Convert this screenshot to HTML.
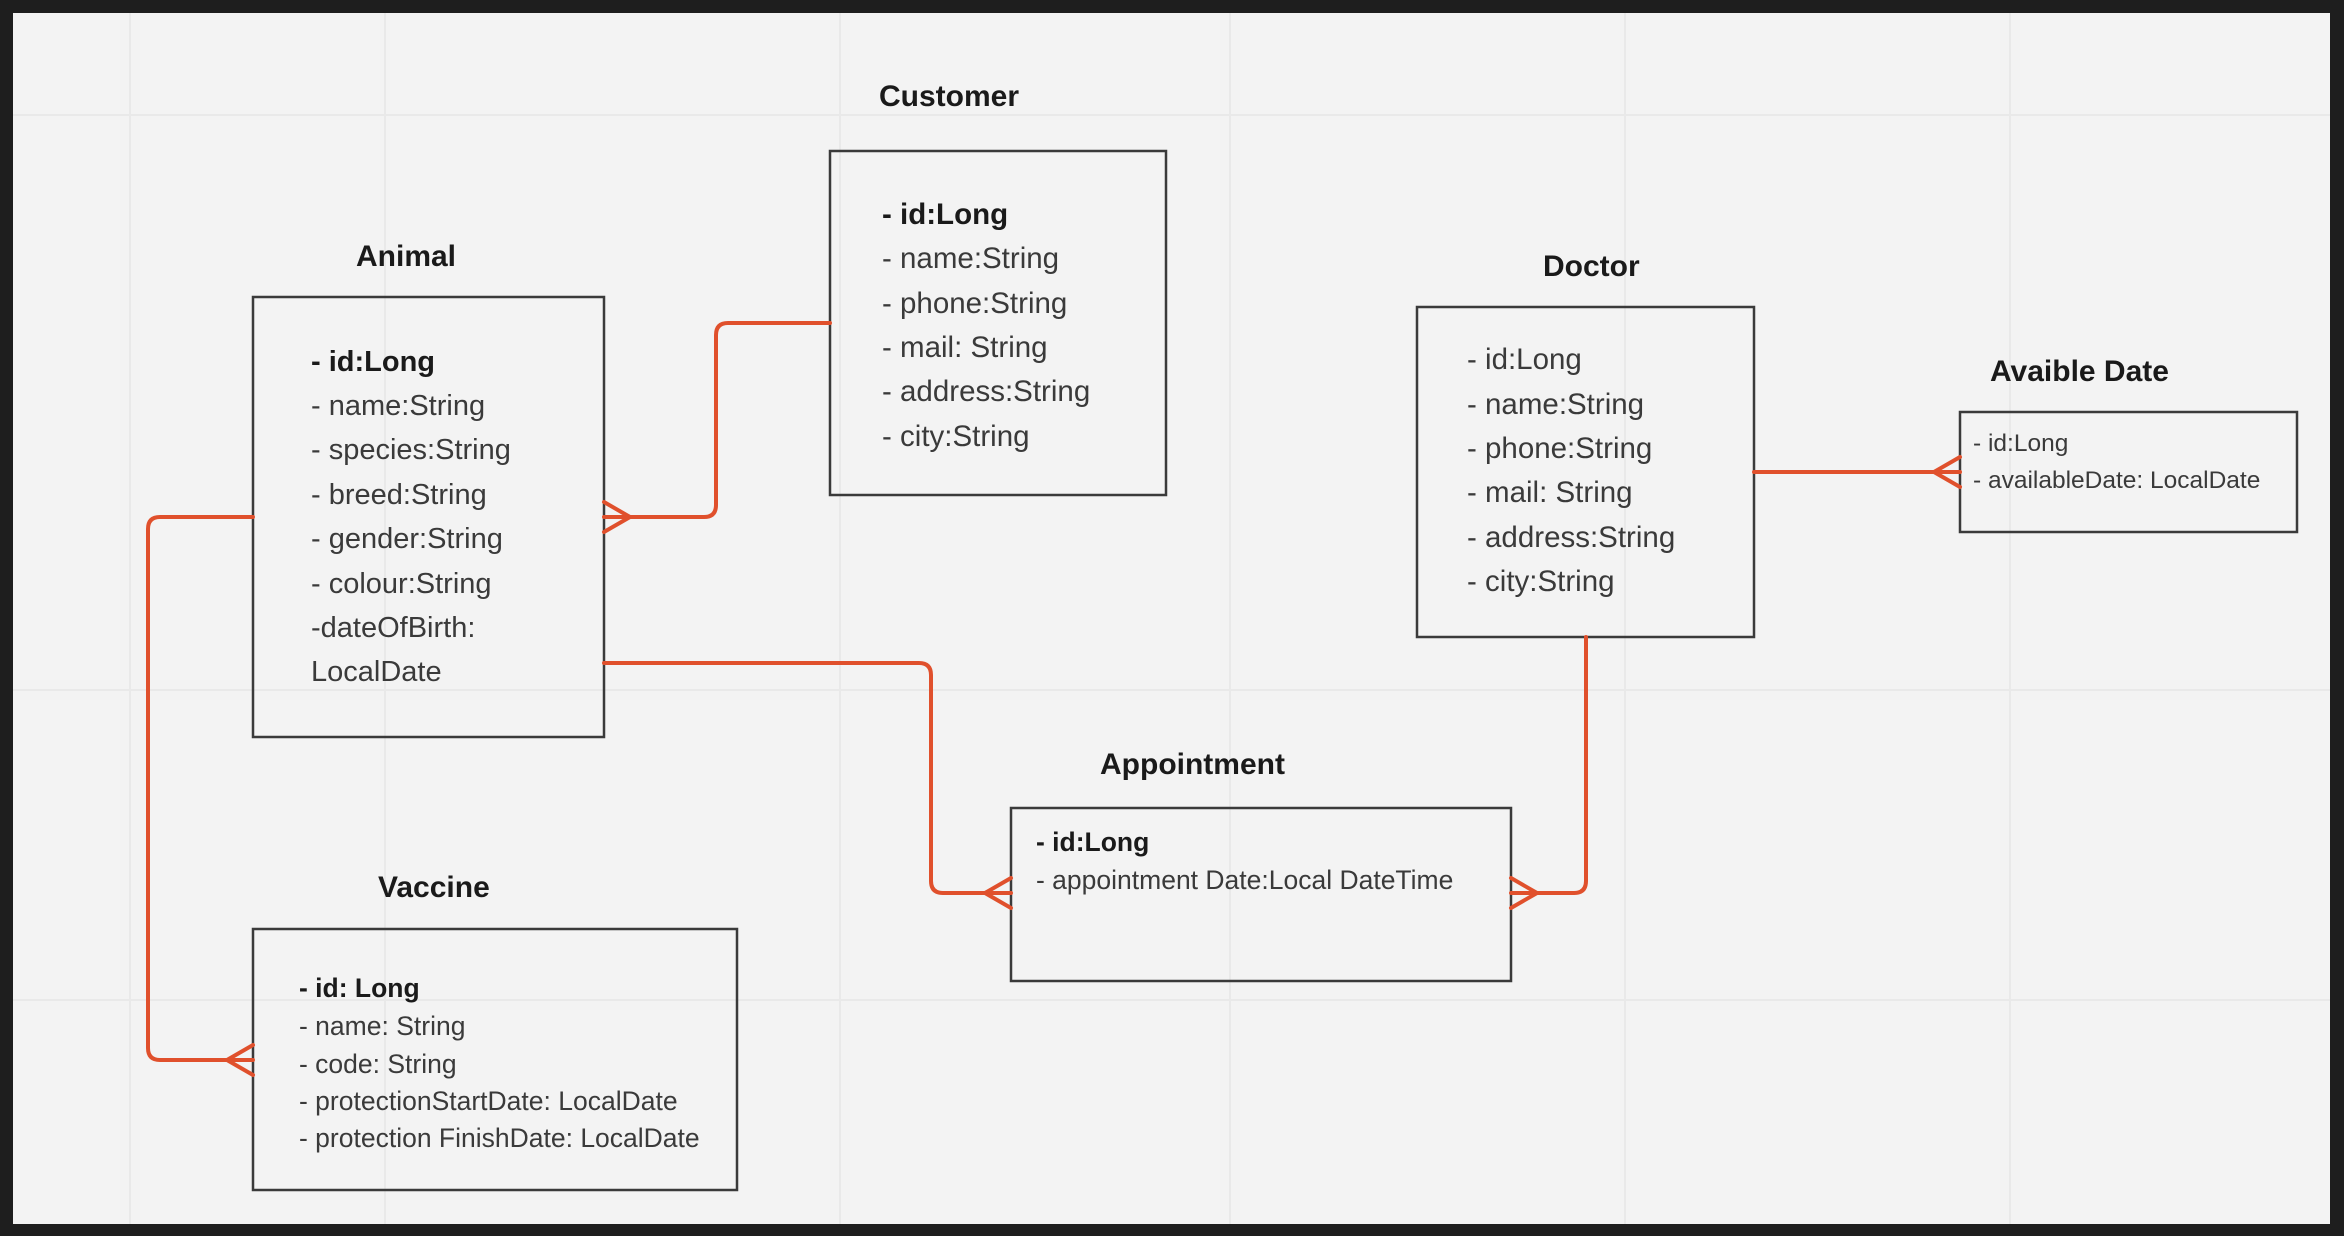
<!DOCTYPE html>
<html><head><meta charset="utf-8"><style>
html,body{margin:0;padding:0;background:#1e1e1e;}
svg{display:block;}
text{font-family:"Liberation Sans",Arial,sans-serif;}
.t{font-weight:bold;font-size:30px;fill:#1a1a1a;}
.b{font-weight:bold;fill:#1a1a1a;}
.n{fill:#3a3a3a;}
.box{fill:none;stroke:#3a3a3a;stroke-width:2.5;}
.c{fill:none;stroke:#e0502c;stroke-width:4;stroke-linejoin:round;stroke-linecap:round;}
.g{stroke:#e9e9e9;stroke-width:2;}
</style></head><body>
<svg width="2344" height="1236" viewBox="0 0 2344 1236" xmlns="http://www.w3.org/2000/svg">
<rect x="0" y="0" width="2344" height="1236" fill="#1e1e1e"/>
<rect x="13" y="13" width="2317" height="1211" fill="#f3f3f3"/>
<g class="g">
<line x1="130" y1="13" x2="130" y2="1224"/><line x1="385" y1="13" x2="385" y2="1224"/><line x1="840" y1="13" x2="840" y2="1224"/><line x1="1230" y1="13" x2="1230" y2="1224"/><line x1="1625" y1="13" x2="1625" y2="1224"/><line x1="2010" y1="13" x2="2010" y2="1224"/>
<line x1="13" y1="115" x2="2330" y2="115"/><line x1="13" y1="690" x2="2330" y2="690"/><line x1="13" y1="1000" x2="2330" y2="1000"/>
</g>

<text class="t" x="879" y="106">Customer</text>
<text class="t" x="356" y="266">Animal</text>
<text class="t" x="1543" y="276">Doctor</text>
<text class="t" x="1990" y="381">Avaible Date</text>
<text class="t" x="1100" y="774">Appointment</text>
<text class="t" x="378" y="897">Vaccine</text>

<rect class="box" x="253" y="297" width="351" height="440"/>
<g font-size="29">
<text class="b" x="311" y="371">- id:Long</text>
<text class="n" x="311" y="415">- name:String</text>
<text class="n" x="311" y="459">- species:String</text>
<text class="n" x="311" y="504">- breed:String</text>
<text class="n" x="311" y="548">- gender:String</text>
<text class="n" x="311" y="593">- colour:String</text>
<text class="n" x="311" y="637">-dateOfBirth:</text>
<text class="n" x="311" y="681">LocalDate</text>
</g>

<rect class="box" x="830" y="151" width="336" height="344"/>
<g font-size="29.5">
<text class="b" x="882" y="224">- id:Long</text>
<text class="n" x="882" y="268">- name:String</text>
<text class="n" x="882" y="313">- phone:String</text>
<text class="n" x="882" y="357">- mail: String</text>
<text class="n" x="882" y="401">- address:String</text>
<text class="n" x="882" y="446">- city:String</text>
</g>

<rect class="box" x="1417" y="307" width="337" height="330"/>
<g font-size="29.5">
<text class="n" x="1467" y="369">- id:Long</text>
<text class="n" x="1467" y="414">- name:String</text>
<text class="n" x="1467" y="458">- phone:String</text>
<text class="n" x="1467" y="502">- mail: String</text>
<text class="n" x="1467" y="547">- address:String</text>
<text class="n" x="1467" y="591">- city:String</text>
</g>

<rect class="box" x="1960" y="412" width="337" height="120"/>
<g font-size="24.5">
<text class="n" x="1973" y="451">- id:Long</text>
<text class="n" x="1973" y="488">- availableDate: LocalDate</text>
</g>

<rect class="box" x="1011" y="808" width="500" height="173"/>
<g font-size="26.5">
<text class="b" x="1036" y="851">- id:Long</text>
<text class="n" x="1036" y="889">- appointment Date:Local DateTime</text>
</g>

<rect class="box" x="253" y="929" width="484" height="261"/>
<g font-size="26.5">
<text class="b" x="299" y="997">- id: Long</text>
<text class="n" x="299" y="1035">- name: String</text>
<text class="n" x="299" y="1073">- code: String</text>
<text class="n" x="299" y="1110">- protectionStartDate: LocalDate</text>
<text class="n" x="299" y="1147">- protection FinishDate: LocalDate</text>
</g>

<path class="c" d="M830 323 H728 Q716 323 716 335 V505 Q716 517 704 517 H604"/>
<path class="c" d="M604 502 L630 517 L604 532"/>

<path class="c" d="M253 517 H160 Q148 517 148 529 V1048 Q148 1060 160 1060 H253"/>
<path class="c" d="M253 1045 L227 1060 L253 1075"/>

<path class="c" d="M604 663 H919 Q931 663 931 675 V881 Q931 893 943 893 H1011"/>
<path class="c" d="M1011 878 L985 893 L1011 908"/>

<path class="c" d="M1586 637 V881 Q1586 893 1574 893 H1511"/>
<path class="c" d="M1511 878 L1537 893 L1511 908"/>

<path class="c" d="M1754 472 H1960"/>
<path class="c" d="M1960 457 L1934 472 L1960 487"/>
</svg>
</body></html>
